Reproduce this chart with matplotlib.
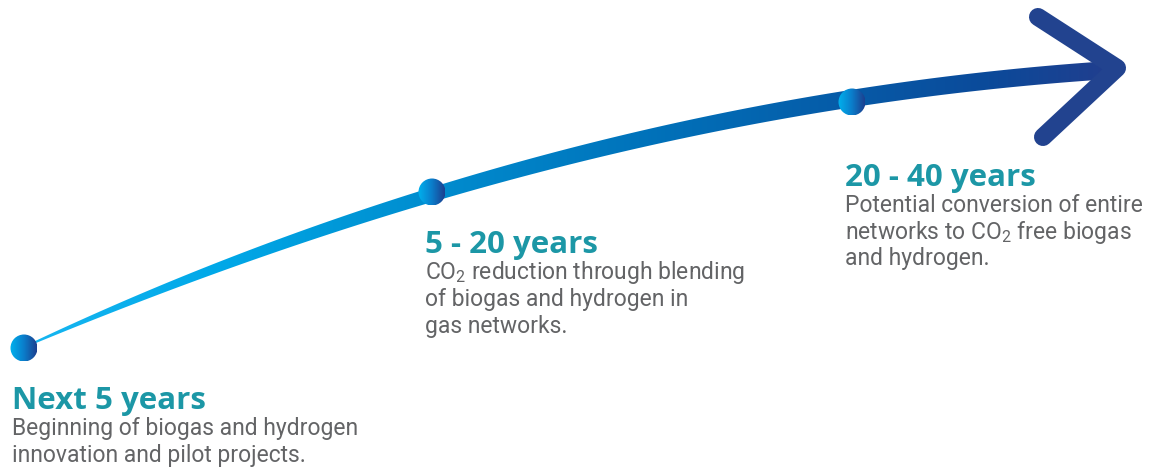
import numpy as np
import matplotlib
matplotlib.use("Agg")
import matplotlib.pyplot as plt
from matplotlib.colors import LinearSegmentedColormap
from matplotlib.patches import Polygon, Circle

plt.rcParams['mathtext.fontset'] = 'custom'
plt.rcParams['mathtext.rm'] = 'Roboto'
plt.rcParams['mathtext.it'] = 'Roboto'

# milestones along the arrow (pixel space of the original graphic)
stage_x = [24, 432, 852]
stage_y = [348, 192, 102]
tip_x, tip_y = 1117, 68

titles = ["Next 5 years", "5 - 20 years", "20 - 40 years"]
bodies = [
    ["Beginning of biogas and hydrogen", "innovation and pilot projects."],
    ["CO$_2$ reduction through blending", "of biogas and hydrogen in", "gas networks."],
    ["Potential conversion of entire", "networks to CO$_2$ free biogas", "and hydrogen."],
]
label_x = [12, 425, 845]
label_y = [409, 253, 186]

W, H = 1151, 469
teal = "#1c97a6"
grey = "#636466"

fig = plt.figure(figsize=(W / 100, H / 100), dpi=100)
ax = fig.add_axes([0, 0, 1, 1])

# arrow shaft: quadratic through the milestones and the tip
px = np.array(stage_x + [tip_x], dtype=float)
py = np.array(stage_y + [tip_y], dtype=float)
coef = np.polyfit(px, py, 2)
xs = np.linspace(stage_x[0], tip_x - 6, 400)
ys = np.polyval(coef, xs)
dydx = np.polyval(np.polyder(coef), xs)
nx = -dydx / np.sqrt(1 + dydx ** 2)
ny = 1 / np.sqrt(1 + dydx ** 2)
width = 1.5 + 17 * (1 - np.exp(-(xs - xs[0]) / 300))
upper = np.column_stack([xs + nx * width / 2, ys + ny * width / 2])
lower = np.column_stack([xs - nx * width / 2, ys - ny * width / 2])
shaft = Polygon(np.vstack([upper, lower[::-1]]), closed=True,
                facecolor="none", edgecolor="none")
ax.add_patch(shaft)

stops = [(0.0, "#1ab8f2"), (220 / W, "#00a8e8"), (340 / W, "#0098d8"),
         (640 / W, "#0073bb"), (990 / W, "#0b4a9a"), (1.0, "#283a8a")]
cmap = LinearSegmentedColormap.from_list("arrow", stops)
grad = np.linspace(0, 1, 512).reshape(1, -1)
img = ax.imshow(grad, cmap=cmap, extent=(0, W, H, 0), aspect="auto",
                interpolation="bilinear")
img.set_clip_path(shaft)

# arrow head
ax.plot([1038, tip_x, 1043], [17, tip_y, 137], color="#22438f", lw=13,
        solid_capstyle="round", solid_joinstyle="round")

# milestone dots
dot_cmap = LinearSegmentedColormap.from_list("dot", ["#00b2ee", "#0a7fcc", "#1c3f8f"])
r = 13.5
for cx, cy in zip(stage_x, stage_y):
    c = Circle((cx, cy), r, facecolor="none", edgecolor="none")
    ax.add_patch(c)
    im = ax.imshow(grad, cmap=dot_cmap, extent=(cx - r, cx + r, cy + r, cy - r),
                   aspect="auto", interpolation="bilinear")
    im.set_clip_path(c)

# labels
for x0, y0, t, lines in zip(label_x, label_y, titles, bodies):
    ax.text(x0, y0, t, color=teal, fontsize=22.5, fontweight="bold",
            family="Open Sans", va="baseline", ha="left")
    for i, line in enumerate(lines):
        ax.text(x0, y0 + 26.5 + 26.5 * i, line, color=grey, fontsize=16.5,
                family="Roboto", va="baseline", ha="left")

ax.set_xlim(0, W)
ax.set_ylim(H, 0)
ax.axis("off")
fig.savefig("out.png", dpi=100)
